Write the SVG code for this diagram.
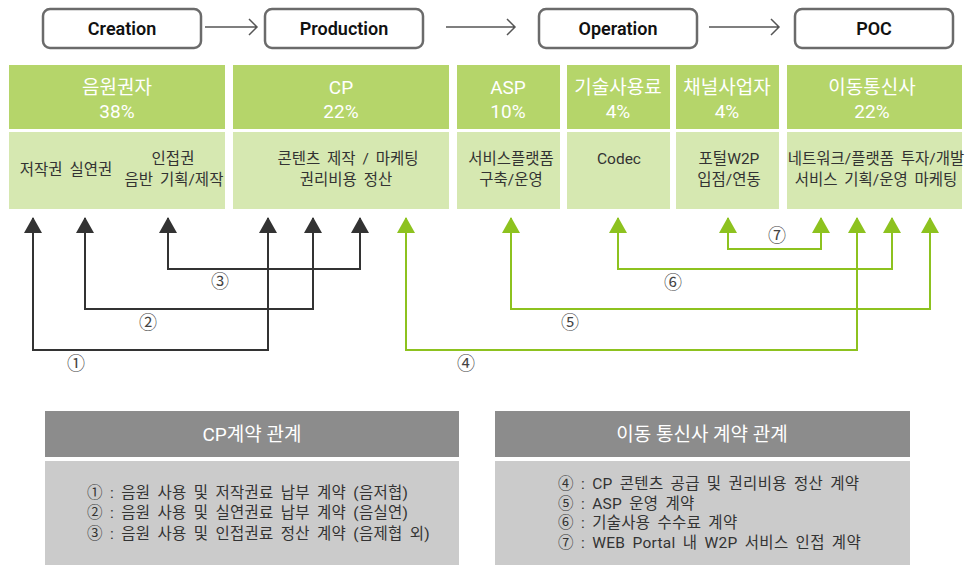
<svg xmlns="http://www.w3.org/2000/svg" width="967" height="565" viewBox="0 0 967 565">
<defs>
<style>
.stage rect{fill:#fff;stroke:#6b6b6b;stroke-width:2.5}
.stage text{font-family:Roboto,"Noto Sans CJK KR",sans-serif;font-weight:600;font-size:18px;fill:#111;text-anchor:middle}
.hd{fill:#b5d56a}
.bd{fill:#d6e8b1}
.ht{font-family:Roboto,"Noto Sans CJK KR",sans-serif;font-size:19px;fill:#fff;text-anchor:middle}
.bt{font-family:Roboto,"Noto Sans CJK KR",sans-serif;font-size:15.5px;fill:#333;text-anchor:middle;word-spacing:3px}
.flow{fill:none;stroke:#555;stroke-width:1.5}
.blk{fill:none;stroke:#333;stroke-width:2}
.grn{fill:none;stroke:#8dc21f;stroke-width:2}
.num{font-family:Roboto,"Noto Sans CJK KR",sans-serif;font-size:18px;fill:#444;text-anchor:middle}
.th{fill:#8c8c8c}
.tb{fill:#cbcbcb}
.tt{font-family:Roboto,"Noto Sans CJK KR",sans-serif;font-size:19px;fill:#fff;text-anchor:middle}
.ti{font-family:Roboto,"Noto Sans CJK KR",sans-serif;font-size:15.5px;fill:#333;word-spacing:3px;letter-spacing:0.3px}
</style>
<marker id="ab" viewBox="0 0 16 18" refX="15" refY="9" markerWidth="16" markerHeight="18" markerUnits="userSpaceOnUse" orient="auto-start-reverse">
<path d="M0,0 L16,9 L0,18 Z" fill="#333"/>
</marker>
<marker id="ag" viewBox="0 0 16 18" refX="15" refY="9" markerWidth="16" markerHeight="18" markerUnits="userSpaceOnUse" orient="auto-start-reverse">
<path d="M0,0 L16,9 L0,18 Z" fill="#8dc21f"/>
</marker>
</defs>
<rect width="967" height="565" fill="#fff"/>

<g id="stages" class="stage">
<g id="creation"><rect x="43" y="9" width="158" height="39" rx="7"/><text x="122" y="35">Creation</text></g>
<g id="production"><rect x="265" y="9" width="158" height="39" rx="7"/><text x="344" y="35">Production</text></g>
<g id="operation"><rect x="539" y="9" width="158" height="39" rx="7"/><text x="618" y="35">Operation</text></g>
<g id="poc"><rect x="795" y="9" width="158" height="39" rx="7"/><text x="874" y="35">POC</text></g>
</g>
<g id="stage-arrows" class="flow">
<path d="M205,27 H257 M249,19 L257,27 L249,35"/>
<path d="M446,27 H515 M507,19 L515,27 L507,35"/>
<path d="M709,27 H779 M771,19 L779,27 L771,35"/>
</g>

<g id="n-rights">
<rect class="hd" x="9" y="65" width="216" height="64"/>
<rect class="bd" x="9" y="132" width="216" height="77"/>
<text class="ht" x="117" y="94">음원권자</text>
<text class="ht" x="117" y="118">38%</text>
<text class="bt" x="66" y="175">저작권 실연권</text>
<text class="bt" x="173" y="164">인접권</text>
<text class="bt" x="174" y="185">음반 기획/제작</text>
</g>
<g id="n-cp">
<rect class="hd" x="233" y="65" width="216" height="64"/>
<rect class="bd" x="233" y="132" width="216" height="77"/>
<text class="ht" x="341" y="94">CP</text>
<text class="ht" x="341" y="118">22%</text>
<text class="bt" x="348" y="164">콘텐츠 제작 / 마케팅</text>
<text class="bt" x="346" y="185">권리비용 정산</text>
</g>
<g id="n-asp">
<rect class="hd" x="457" y="65" width="103" height="64"/>
<rect class="bd" x="457" y="132" width="103" height="77"/>
<text class="ht" x="508" y="94">ASP</text>
<text class="ht" x="508" y="118">10%</text>
<text class="bt" x="511" y="164">서비스플랫폼</text>
<text class="bt" x="511" y="185">구축/운영</text>
</g>
<g id="n-tech">
<rect class="hd" x="567" y="65" width="103" height="64"/>
<rect class="bd" x="567" y="132" width="103" height="77"/>
<text class="ht" x="618" y="94">기술사용료</text>
<text class="ht" x="618" y="118">4%</text>
<text class="bt" x="619" y="164">Codec</text>
</g>
<g id="n-channel">
<rect class="hd" x="676" y="65" width="103" height="64"/>
<rect class="bd" x="676" y="132" width="103" height="77"/>
<text class="ht" x="727" y="94">채널사업자</text>
<text class="ht" x="727" y="118">4%</text>
<text class="bt" x="729" y="164">포털W2P</text>
<text class="bt" x="729" y="185">입점/연동</text>
</g>
<g id="n-mno">
<rect class="hd" x="787" y="65" width="175" height="64"/>
<rect class="bd" x="787" y="132" width="175" height="77"/>
<text class="ht" x="872" y="94">이동통신사</text>
<text class="ht" x="872" y="118">22%</text>
<text class="bt" x="876" y="164">네트워크/플랫폼 투자/개발</text>
<text class="bt" x="876" y="185">서비스 기획/운영 마케팅</text>
</g>

<g id="connectors">
<path class="blk" marker-start="url(#ab)" marker-end="url(#ab)" d="M168,218 V269 H360 V218"/>
<path class="blk" marker-start="url(#ab)" marker-end="url(#ab)" d="M85,218 V309 H313 V218"/>
<path class="blk" marker-start="url(#ab)" marker-end="url(#ab)" d="M33,218 V350 H268 V218"/>
<path class="grn" marker-start="url(#ag)" marker-end="url(#ag)" d="M728,218 V249 H821 V218"/>
<path class="grn" marker-start="url(#ag)" marker-end="url(#ag)" d="M618,218 V269 H892 V218"/>
<path class="grn" marker-start="url(#ag)" marker-end="url(#ag)" d="M511,218 V309 H930 V218"/>
<path class="grn" marker-start="url(#ag)" marker-end="url(#ag)" d="M406,218 V350 H857 V218"/>
<text class="num" x="220" y="288">③</text>
<text class="num" x="148" y="329">②</text>
<text class="num" x="76" y="370">①</text>
<text class="num" x="777" y="242">⑦</text>
<text class="num" x="673" y="289">⑥</text>
<text class="num" x="570" y="329">⑤</text>
<text class="num" x="466" y="370">④</text>
</g>

<g id="legend-cp">
<rect class="th" x="45" y="411" width="414" height="46"/>
<rect class="tb" x="45" y="461" width="414" height="104"/>
<text class="tt" x="252" y="441">CP계약 관계</text>
<text class="ti" x="87" y="498">① : 음원 사용 및 저작권료 납부 계약 (음저협)</text>
<text class="ti" x="87" y="518">② : 음원 사용 및 실연권료 납부 계약 (음실연)</text>
<text class="ti" x="87" y="539">③ : 음원 사용 및 인접권료 정산 계약 (음제협 외)</text>
</g>
<g id="legend-mno">
<rect class="th" x="495" y="411" width="415" height="46"/>
<rect class="tb" x="495" y="461" width="415" height="104"/>
<text class="tt" x="702" y="441">이동 통신사 계약 관계</text>
<text class="ti" x="558" y="489">④ : CP 콘텐츠 공급 및 권리비용 정산 계약</text>
<text class="ti" x="558" y="509">⑤ : ASP 운영 계약</text>
<text class="ti" x="558" y="528">⑥ : 기술사용 수수료 계약</text>
<text class="ti" x="558" y="548">⑦ : WEB Portal 내 W2P 서비스 인접 계약</text>
</g>
</svg>
